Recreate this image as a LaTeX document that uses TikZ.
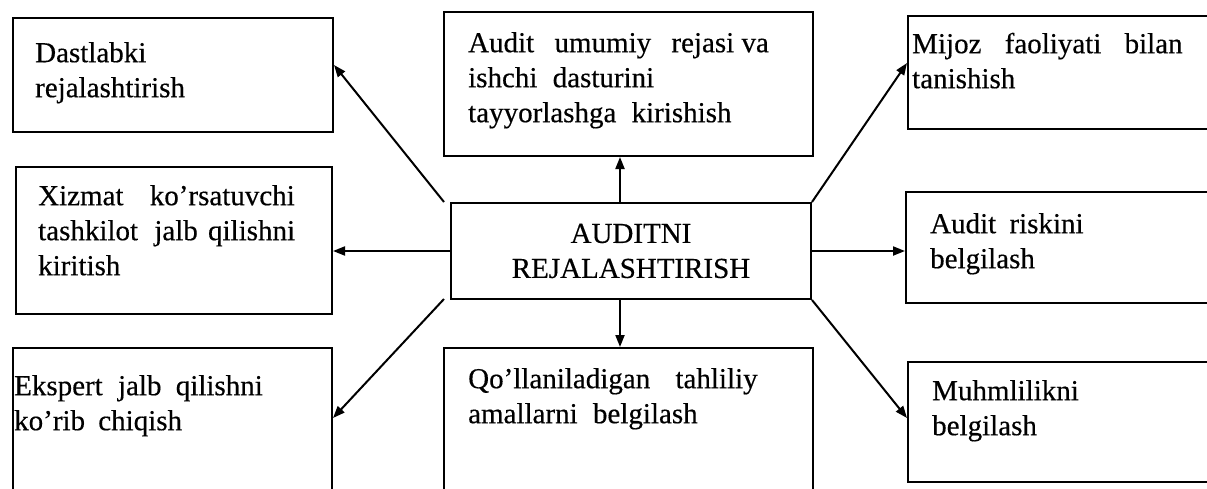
\documentclass[tikz,border=0pt]{standalone}
\usepackage{fontspec}
\setmainfont{Liberation Serif}
\newfontfamily\txtfont[FakeBold=0.4]{Liberation Serif}
\usetikzlibrary{calc,arrows.meta}
\newcommand\wsp[1]{\hspace*{#1pt}}
\newcommand\fst{\rule{0pt}{21pt}}
\begin{document}
\begin{tikzpicture}[x=1pt,y=-1pt,
  box/.style={draw,line width=2pt,inner sep=0pt,rectangle},
  txt/.style={anchor=north west,inner sep=0pt,align=left,font=\txtfont\fontsize{29}{35}\selectfont},
  arr/.style={line width=2pt,-{Triangle[length=12pt,width=9pt]}}]
\useasboundingbox (0,0) rectangle (1207,488);
% boxes
\node[box,minimum width=320pt,minimum height=114pt] (b1) at (173,75) {};
\node[box,minimum width=369pt,minimum height=144pt] (b2) at (628.5,84) {};
\node[box,minimum width=312pt,minimum height=113pt] (b3) at (1064,72.5) {};
\node[box,minimum width=316pt,minimum height=147pt] (b4) at (174,240.5) {};
\node[box,minimum width=360pt,minimum height=96pt,align=center,font=\txtfont\fontsize{29}{35}\selectfont] (c) at (631,251) {AUDITNI\\REJALASHTIRISH};
\node[box,minimum width=314pt,minimum height=111pt] (b5) at (1063,247.5) {};
\node[box,minimum width=319pt,minimum height=152pt] (b6) at (172.5,424) {};
\node[box,minimum width=369pt,minimum height=152pt] (b7) at (628.5,424) {};
\node[box,minimum width=312pt,minimum height=120pt] (b8) at (1064,422) {};
% texts
\node[txt] (t1) at (35,41) {\fst Dastlabki\\rejalashtirish};
\node[txt] (t2) at (468,31) {\fst Audit\wsp{13} umumiy\wsp{13} rejasi va\\ishchi\wsp{8} dasturini\\tayyorlashga\wsp{8} kirishish};
\node[txt] (t3) at (912,32) {\fst Mijoz\wsp{16} faoliyati\wsp{16} bilan\\tanishish};
\node[txt] (t4) at (38,184) {\fst Xizmat\wsp{19} ko’rsatuvchi\\tashkilot\wsp{9} jalb\wsp{3} qilishni\\kiritish};
\node[txt] (t5) at (930,212) {\fst Audit\wsp{6} riskini\\belgilash};
\node[txt] (t6) at (14,374) {\fst Ekspert\wsp{8} jalb\wsp{7} qilishni\\ko’rib\wsp{6} chiqish};
\node[txt] (t7) at (468,367) {\fst Qo’llaniladigan\wsp{18} tahliliy\\amallarni\wsp{8} belgilash};
\node[txt] (t8) at (932,379) {\fst Muhmlilikni\\belgilash};
% connectors
\coordinate (vx) at (620,0);
\draw[arr] (c.north -| vx) -- (b2.south -| vx);
\draw[arr] (c.south -| vx) -- (b7.north -| vx);
\draw[arr] (c.west) -- (c.west -| b4.east);
\draw[arr] (c.east) -- (c.east -| b5.west);
\draw[arr] ($(c.north west)+(-6,0)$) -- ($(b1.east)+(0,-10)$);
\draw[arr] ($(c.south west)+(-6,-1)$) -- ($(b6.east)+(0,-6)$);
\draw[arr] (c.north east) -- ($(b3.west)+(0,-9.5)$);
\draw[arr] (c.south east) -- ($(b8.west)+(0,-4)$);
\end{tikzpicture}
\end{document}
